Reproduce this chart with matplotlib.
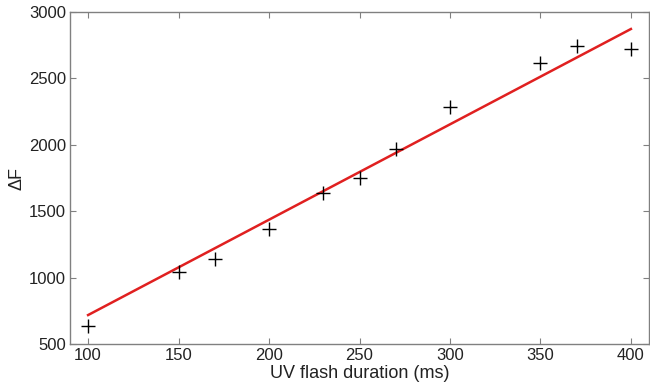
import numpy as np
import matplotlib
matplotlib.use("Agg")
import matplotlib.pyplot as plt

plt.rcParams['font.family'] = ['Liberation Sans', 'DejaVu Sans']

duration = [100, 150, 170, 200, 230, 250, 270, 300, 350, 370, 400]
delta_f = [635, 1042, 1140, 1366, 1637, 1750, 1968, 2285, 2616, 2744, 2721]
fit_x = [100, 400]
fit_y = [718, 2872]
xticks = [100, 150, 200, 250, 300, 350, 400]
yticks = [500, 1000, 1500, 2000, 2500, 3000]

fig = plt.figure(figsize=(6.5, 3.9), dpi=100)
ax = fig.add_axes([70/650, 1-344/390, 579/650, (344-12)/390])

ax.plot(fit_x, fit_y, color='#e02020', lw=1.8, zorder=2)
ax.plot(duration, delta_f, linestyle='none', marker='+', color='black',
        markersize=10, markeredgewidth=1.0, zorder=3)

ax.set_xlim(90, 410)
ax.set_ylim(500, 3000)
ax.set_xticks(xticks)
ax.set_yticks(yticks)
ax.tick_params(direction='in', length=4, width=0.8, color='#808080',
               top=True, right=True, labelsize=12, labelcolor='#222222', pad=3)
for s in ax.spines.values():
    s.set_color('#808080')
    s.set_linewidth(1.0)

ax.set_xlabel('UV flash duration (ms)', fontsize=13, labelpad=1, color='#222222')
ax.set_ylabel('ΔF', fontsize=13, color='#222222')
ax.yaxis.set_label_coords((26 - 70) / 579, 0.5)

fig.savefig('out.png', dpi=100)
